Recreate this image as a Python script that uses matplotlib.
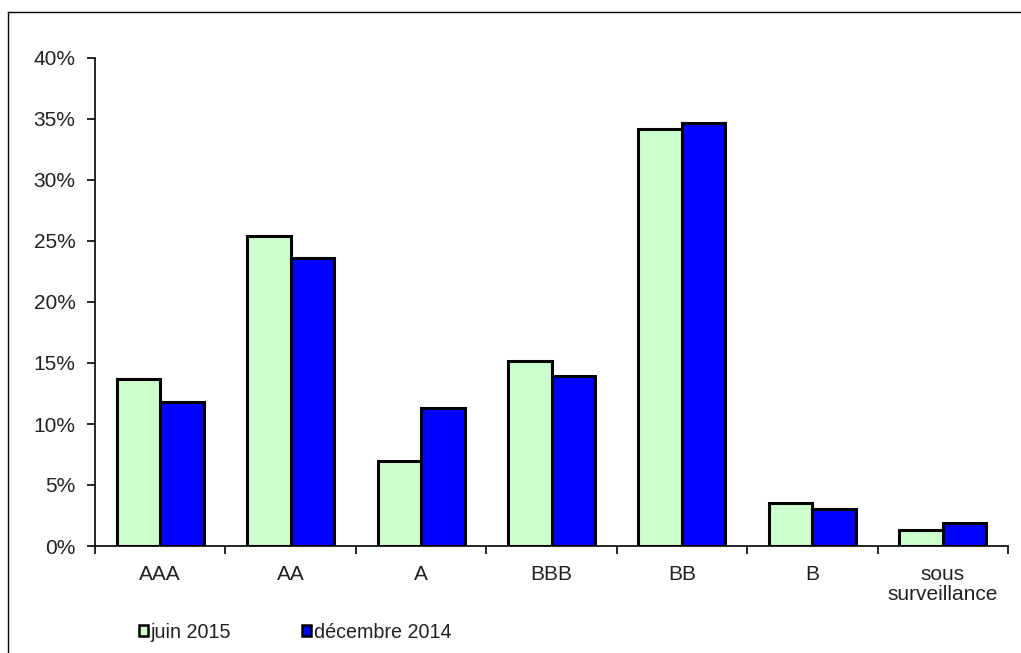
import matplotlib
matplotlib.use("Agg")
import matplotlib.pyplot as plt
from matplotlib.patches import Rectangle
from matplotlib.lines import Line2D
import numpy as np

categories = ["AAA", "AA", "A", "BBB", "BB", "B", "sous\nsurveillance"]
juin_2015 = [13.7, 25.4, 7.0, 15.2, 34.2, 3.5, 1.3]
decembre_2014 = [11.8, 23.6, 11.3, 13.9, 34.7, 3.0, 1.9]
series_labels = ["juin 2015", "décembre 2014"]
yticks = [0, 5, 10, 15, 20, 25, 30, 35, 40]

plt.rcParams['font.family'] = ['Liberation Sans', 'DejaVu Sans']

fig = plt.figure(figsize=(10.21, 6.53), dpi=100)
W, H = 1021, 653
ax = fig.add_axes([95 / W, (H - 546) / H, 913 / W, 488 / H])

x = np.arange(len(categories))
w = 1 / 3
ax.bar(x - w / 2, juin_2015, width=w, color="#CCFFCC", edgecolor="black", linewidth=2.2, zorder=3)
ax.bar(x + w / 2, decembre_2014, width=w, color="#0000FF", edgecolor="black", linewidth=2.2, zorder=3)

ax.set_xlim(-0.5, len(categories) - 0.5)
ax.set_ylim(0, 40)
ax.set_yticks(yticks)
ax.set_yticklabels([f"{t}%" for t in yticks], fontsize=15, color="#222222")
ax.set_xticks(x)
ax.set_xticklabels(categories, fontsize=15, linespacing=1.05, color="#222222")
ax.set_xticks(np.arange(-0.5, len(categories), 1.0), minor=True)
ax.tick_params(axis='x', which='major', length=0, pad=14)
ax.tick_params(axis='x', which='minor', length=6, width=1.2, direction='out')
ax.tick_params(axis='y', length=6, width=1.2, direction='out', pad=8)
for s in ["top", "right"]:
    ax.spines[s].set_visible(False)
for s in ["left", "bottom"]:
    ax.spines[s].set_linewidth(1.2)

# legend
handles = [Rectangle((0, 0), 1, 1, facecolor="#CCFFCC", edgecolor="black", linewidth=1.8),
           Rectangle((0, 0), 1, 1, facecolor="#0000FF", edgecolor="black", linewidth=1.8)]
leg = fig.legend(handles, series_labels, loc="center left", bbox_to_anchor=(121 / W, 1 - 632 / H),
                 ncol=2, frameon=False, fontsize=14.2, handlelength=0.45, handleheight=0.45,
                 handletextpad=0.15, columnspacing=3.6, labelcolor="#222222")

# figure frame
fig.add_artist(Line2D([8 / W, 8 / W], [0, 1 - 12 / H], transform=fig.transFigure, color="black", linewidth=1))
fig.add_artist(Line2D([8 / W, 1], [1 - 12 / H, 1 - 12 / H], transform=fig.transFigure, color="black", linewidth=1))

fig.savefig("out.png", dpi=100)
